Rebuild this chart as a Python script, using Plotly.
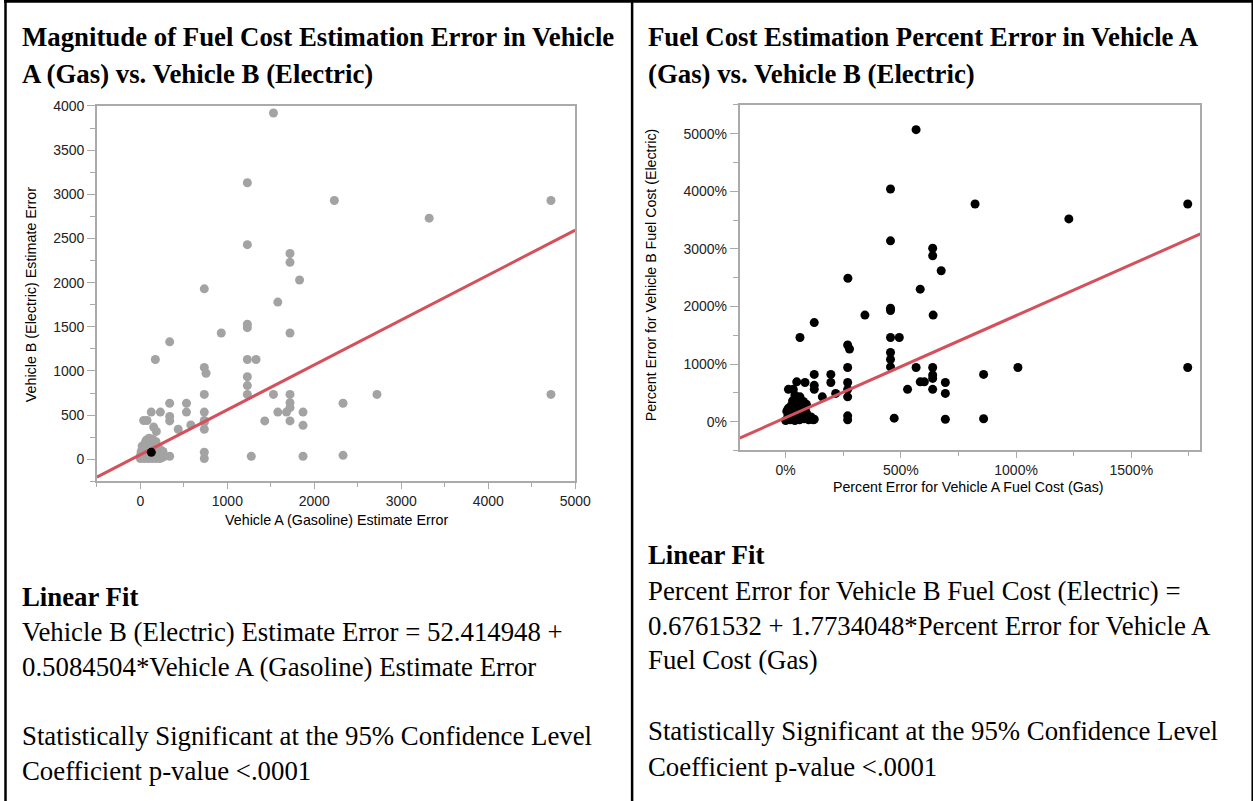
import plotly.graph_objects as go

W, H = 1253, 801

# ---------------- data: left panel (magnitude of estimate error, $) ----------------
gas_err = [1530, 1230, 2230, 3320, 4720, 1230, 1720, 1720, 1830, 735, 1580, 930, 1230, 1230,
           1720, 337, 172, 1230, 1330, 735, 755, 1230, 1230, 1230, 1530, 1720, 735, 2720, 4720,
           2330, 337, 530, 1720, 1720, 125, 230, 530, 735, 1580, 1680, 1870, 337, 337, 1430,
           1720, 735, 1870, 735, 580, 435, 2330, 1870, 1275, 735, 735, 337, 735, 38, 77, 153, 184,
           0, 20, 45, 60, 90, 100, 135, 150, 180, 200, 225, 250, 10, 40, 75, 110, 160, 210, 240,
           20, 55, 90, 120, 150, 190, 230, 70, 100, 140, 60, 180, 30, 260, 5, 270]
elec_err = [3920, 3130, 2930, 2730, 2930, 2430, 2330, 2230, 2030, 1930, 1780, 1430, 1530, 1490,
            1430, 1330, 1130, 1130, 1130, 1040, 975, 935, 835, 735, 735, 735, 735, 735, 735,
            635, 635, 635, 640, 585, 535, 535, 535, 535, 535, 535, 535, 485, 435, 435,
            435, 440, 385, 340, 390, 340, 45, 35, 35, 80, 10, 35, 421, 440, 440, 365, 316,
            10, 30, 10, 60, 10, 45, 10, 30, 10, 40, 10, 20, 90, 110, 95, 80, 90, 70, 60,
            150, 170, 140, 160, 130, 120, 110, 220, 240, 230, 200, 200, 130, 90, 55, 30]
sel_gas = [126]
sel_elec = [79]
fit1_b0, fit1_b1 = 52.414948, 0.5084504
fit1_x = [-500, 5000]

# ---------------- data: right panel (percent error, as fraction) ----------------
gas_pct = [5.66, 4.55, 4.55, 6.38, 6.38, 6.75, 2.70, 5.84, 8.22, 12.29, 17.45, 6.40, 17.45,
           10.08, 8.59, 8.59, 6.93, 6.93, 6.93, 6.38, 6.38, 6.38, 6.38, 3.44, 4.55, 4.55, 4.55,
           4.93, 2.69, 2.77, 4.55, 4.55, 4.55, 5.66, 5.84, 6.02, 5.29, 4.71, 1.24, 0.62, 2.69,
           1.24, 1.96, 1.96, 2.69, 1.24, 1.24, 2.17, 1.59, 2.69, 2.69, 2.69, 2.69, 0.48, 0.84,
           1.24, 0.12, 0.33, 0.40, 0.62, 0.77,
           0.0, 0.1, 0.2, 0.3, 0.4, 0.5, 0.6, 0.7, 0.8, 0.9, 1.0, 1.1, 1.2, 0.05, 0.15, 0.25,
           0.35, 0.45, 0.55, 0.65, 0.75, 0.85, 0.95, 0.3, 0.5, 0.7, 0.2, 0.4, 0.6, 0.8, 0.1,
           0.5, 0.3, 0.9]
elec_pct = [50.7, 40.4, 31.4, 30.1, 28.8, 26.2, 24.9, 23.0, 37.8, 35.2, 37.8, 18.5, 9.4,
            9.4, 8.2, 0.5, 6.8, 4.9, 0.4, 9.4, 8.1, 7.5, 5.6, 18.5, 19.7, 19.3, 14.6,
            14.6, 13.3, 12.6, 12.0, 10.8, 9.5, 9.4, 6.9, 6.9, 5.6, 0.6, 17.2, 14.6, 9.4,
            8.2, 8.2, 6.8, 6.8, 6.3, 5.6, 4.9, 4.3, 5.6, 4.3, 1.0, 0.3, 6.9, 6.8,
            0.4, 5.6, 5.6, 4.6, 4.3, 3.5,
            0.2, 1.0, 0.3, 1.8, 0.2, 1.2, 0.3, 2.0, 0.5, 1.5, 0.3, 0.8, 0.3, 1.8, 2.4, 2.8,
            3.1, 2.5, 2.9, 1.0, 2.6, 2.2, 0.9, 0.6, 0.5, 0.8, 1.4, 1.6, 1.9, 1.3, 2.2,
            3.3, 3.6, 3.0]
fit2_b0, fit2_b1 = 0.6761532, 1.7734048
fit2_x = [-2, 18]

RED = "#d4505b"
GRAY_PT = "#a3a3a3"
AX = "#aaaaaa"

fig = go.Figure()
fig.add_trace(go.Scatter(x=gas_err, y=elec_err, mode="markers", xaxis="x", yaxis="y",
                         marker=dict(color=GRAY_PT, size=9), showlegend=False))
fig.add_trace(go.Scatter(x=fit1_x, y=[fit1_b0 + fit1_b1 * v for v in fit1_x], mode="lines",
                         xaxis="x", yaxis="y", line=dict(color=RED, width=3), showlegend=False))
fig.add_trace(go.Scatter(x=sel_gas, y=sel_elec, mode="markers", xaxis="x", yaxis="y",
                         marker=dict(color="black", size=9), showlegend=False))
fig.add_trace(go.Scatter(x=gas_pct, y=elec_pct, mode="markers", xaxis="x2", yaxis="y2",
                         marker=dict(color="black", size=9), showlegend=False))
fig.add_trace(go.Scatter(x=fit2_x, y=[fit2_b0 + fit2_b1 * v for v in fit2_x], mode="lines",
                         xaxis="x2", yaxis="y2", line=dict(color=RED, width=3), showlegend=False))

# observed placement of the paper area in the photographed page
AX0, SX = 1.0, 0.9855
AY0, SY = 8.2, 0.9887

def px_x(p):
    return (p - AX0) / (SX * W)

def px_y(p):
    return 1 - (p - AY0) / (SY * H)

tickfont = dict(family="Liberation Sans, Arial", size=14, color="#222")
common = dict(showline=True, linecolor=AX, linewidth=1.5, mirror=True, ticks="outside",
              tickcolor=AX, showgrid=False, zeroline=False, tickfont=tickfont)

fig.update_layout(
    width=W, height=H, margin=dict(l=0, r=0, t=0, b=0),
    paper_bgcolor="white", plot_bgcolor="white",
    xaxis=dict(domain=[px_x(97.7), px_x(575.3)], range=[-500, 5000], anchor="y", ticklen=6,
               tickvals=[0, 1000, 2000, 3000, 4000, 5000],
               minor=dict(dtick=500, tick0=0, ticks="outside", ticklen=4, tickcolor=AX), **common),
    yaxis=dict(domain=[px_y(481), px_y(106)], range=[-250, 4000], anchor="x", ticklen=8,
               tickvals=[0, 500, 1000, 1500, 2000, 2500, 3000, 3500, 4000],
               minor=dict(dtick=250, tick0=0, ticks="outside", ticklen=5, tickcolor=AX), **common),
    xaxis2=dict(domain=[px_x(739.3), px_x(1199.3)], range=[-2, 18], anchor="y2", ticklen=6,
                tickvals=[0, 5, 10, 15], tickformat=".0%",
                minor=dict(dtick=2.5, tick0=0, ticks="outside", ticklen=4, tickcolor=AX), **common),
    yaxis2=dict(domain=[px_y(450), px_y(105)], range=[-5, 55], anchor="x2", ticklen=8,
                tickvals=[0, 10, 20, 30, 40, 50], tickformat=".0%",
                minor=dict(dtick=5, tick0=0, ticks="outside", ticklen=5, tickcolor=AX), **common),
)

serif = "Liberation Serif, Times New Roman, serif"
sans = "Liberation Sans, Arial, sans-serif"
ann = []
FS = 26.8

def txt(x, y, s, size=FS, bold=False, family=serif):
    ann.append(dict(x=px_x(x), y=px_y(y), xref="paper", yref="paper", xanchor="left",
                    yanchor="middle", showarrow=False,
                    text=("<b>%s</b>" % s) if bold else s,
                    font=dict(family=family, size=size, color="black")))

# titles
txt(21, 37, "Magnitude of Fuel Cost Estimation Error in Vehicle", bold=True)
txt(21, 74, "A (Gas) vs. Vehicle B (Electric)", bold=True)
txt(646, 37, "Fuel Cost Estimation Percent Error in Vehicle A", bold=True)
txt(646, 74, "(Gas) vs. Vehicle B (Electric)", bold=True)

# left notes
txt(21, 596, "Linear Fit", bold=True)
txt(21, 631, "Vehicle B (Electric) Estimate Error = 52.414948 +")
txt(21, 666, "0.5084504*Vehicle A (Gasoline) Estimate Error")
txt(21, 735, "Statistically Significant at the 95% Confidence Level")
txt(21, 770, "Coefficient p-value &lt;.0001")

# right notes
txt(646, 554, "Linear Fit", bold=True)
txt(646, 590, "Percent Error for Vehicle B Fuel Cost (Electric) =")
txt(646, 625, "0.6761532 + 1.7734048*Percent Error for Vehicle A")
txt(646, 659, "Fuel Cost (Gas)")
txt(646, 730, "Statistically Significant at the 95% Confidence Level")
txt(646, 766, "Coefficient p-value &lt;.0001")

# axis titles
def axtitle(x, y, s, size, angle=0):
    ann.append(dict(x=px_x(x), y=px_y(y), xref="paper", yref="paper", xanchor="center",
                    yanchor="middle", showarrow=False, text=s, textangle=angle,
                    font=dict(family=sans, size=size, color="black")))

axtitle(337, 520, "Vehicle A (Gasoline) Estimate Error", 14.3)
axtitle(32, 294, "Vehicle B (Electric) Estimate Error", 14.3, -90)
axtitle(967, 487, "Percent Error for Vehicle A Fuel Cost (Gas)", 14.2)
axtitle(651, 275, "Percent Error for Vehicle B Fuel Cost (Electric)", 14.2, -90)

fig.update_layout(annotations=ann)

# table borders
shapes = [
    dict(type="line", xref="paper", yref="paper", x0=px_x(5), x1=px_x(1260), y0=px_y(1.5),
         y1=px_y(1.5), line=dict(color="black", width=3)),
    dict(type="line", xref="paper", yref="paper", x0=px_x(6.5), x1=px_x(6.5), y0=px_y(805),
         y1=px_y(0), line=dict(color="black", width=2.5)),
    dict(type="line", xref="paper", yref="paper", x0=px_x(632), x1=px_x(632), y0=px_y(805),
         y1=px_y(0), line=dict(color="black", width=2.5)),
    dict(type="line", xref="paper", yref="paper", x0=px_x(1251.5), x1=px_x(1251.5),
         y0=px_y(805), y1=px_y(0), line=dict(color="black", width=2.5)),
]
fig.update_layout(shapes=shapes)

fig.write_html("out.html")
